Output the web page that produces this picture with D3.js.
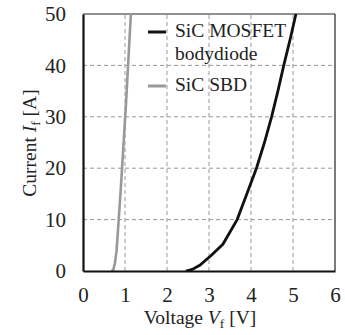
<!DOCTYPE html>
<html><head><meta charset="utf-8">
<script src="https://cdn.jsdelivr.net/npm/d3@7"></script>
<style>body{margin:0;background:#fff}svg{display:block}svg text{font-family:'Liberation Serif','Times New Roman',serif !important;fill:#222}</style>
</head><body>
<script>
const xTicks = [0,1,2,3,4,5,6];
const yTicks = [0,10,20,30,40,50];
const sbdV = [0.68,0.72,0.76,0.80,0.85,0.90,0.96,1.02,1.08,1.14];
const sbdI = [0,0.2,1.5,4,10,16,24,32,41,50];
const mosV = [2.45,2.6,2.78,3.05,3.33,3.67,3.9,4.13,4.32,4.49,4.64,4.78,4.93,5.07];
const mosI = [0,0.3,1.1,3,5.2,10,15,20,25,30,35,40,45,50];
const legendLabels = [["SiC MOSFET","bodydiode"],["SiC SBD"]];
const colors = ["#111","#999"];

const W=345,H=335, m={l:83,r:10,t:14,b:64};
const svg=d3.select("body").append("svg").attr("width",W).attr("height",H);
const x=d3.scaleLinear().domain([0,6]).range([m.l,W-m.r]);
const y=d3.scaleLinear().domain([0,50]).range([H-m.b,m.t]);

// grid
svg.append("g").selectAll("line").data(xTicks.filter(d=>d>0&&d<6)).join("line")
 .attr("x1",d=>x(d)).attr("x2",d=>x(d)).attr("y1",y(0)).attr("y2",y(50))
 .attr("stroke","#999").attr("stroke-width",1).attr("stroke-dasharray","4,3");
svg.append("g").selectAll("line").data(yTicks.filter(d=>d>0&&d<50)).join("line")
 .attr("y1",d=>y(d)).attr("y2",d=>y(d)).attr("x1",x(0)).attr("x2",x(6))
 .attr("stroke","#999").attr("stroke-width",1).attr("stroke-dasharray","4,3");

// frame
svg.append("line").attr("x1",x(0)).attr("x2",x(6)).attr("y1",y(50)).attr("y2",y(50)).attr("stroke","#222").attr("stroke-width",1.2);
svg.append("line").attr("x1",x(6)).attr("x2",x(6)).attr("y1",y(0)).attr("y2",y(50)).attr("stroke","#222").attr("stroke-width",1.2);

const line=d3.line().x(d=>x(d[0])).y(d=>y(d[1]));
const sbd=sbdV.map((v,i)=>[v,sbdI[i]]);
const mos=mosV.map((v,i)=>[v,mosI[i]]);
svg.append("clipPath").attr("id","c").append("rect").attr("x",x(0)).attr("y",y(50)-1).attr("width",x(6)-x(0)).attr("height",y(0)-y(50)+1);
svg.append("path").datum(sbd).attr("d",line).attr("fill","none").attr("stroke",colors[1]).attr("stroke-width",2.6).attr("clip-path","url(#c)");
svg.append("path").datum(mos).attr("d",line).attr("fill","none").attr("stroke",colors[0]).attr("stroke-width",2.8).attr("clip-path","url(#c)");

// axes (left & bottom thick)
const xa=svg.append("g").attr("transform",`translate(0,${y(0)})`).call(d3.axisBottom(x).tickValues(xTicks).tickSize(0).tickPadding(16).tickFormat(d3.format("d")));
const ya=svg.append("g").attr("transform",`translate(${x(0)},0)`).call(d3.axisLeft(y).tickValues(yTicks).tickSize(0).tickPadding(17).tickFormat(d3.format("d")));
[xa,ya].forEach(g=>{g.attr("font-family",null).attr("font-size",null);g.select(".domain").attr("stroke","#111").attr("stroke-width",2.2);g.selectAll("text").attr("font-size",21).attr("fill","#222");});

// legend
const lg=svg.append("g");
lg.append("line").attr("x1",148).attr("x2",166).attr("y1",32).attr("y2",32).attr("stroke",colors[0]).attr("stroke-width",3);
lg.append("text").attr("x",175).attr("y",37).attr("font-size",19.5).text(legendLabels[0][0]);
lg.append("text").attr("x",175).attr("y",60).attr("font-size",19.5).text(legendLabels[0][1]);
lg.append("line").attr("x1",148).attr("x2",166).attr("y1",86).attr("y2",86).attr("stroke",colors[1]).attr("stroke-width",3);
lg.append("text").attr("x",175).attr("y",91).attr("font-size",19.5).text(legendLabels[1][0]);

// axis titles
const xt=svg.append("text").attr("x",200).attr("y",324).attr("text-anchor","middle").attr("font-size",19.5);
xt.append("tspan").text("Voltage ");
xt.append("tspan").attr("font-style","italic").text("V");
xt.append("tspan").attr("dy",4).attr("font-size",13.5).text("f");
xt.append("tspan").attr("dy",-4).text(" [V]");
const yt=svg.append("text").attr("transform","translate(36,143) rotate(-90)").attr("text-anchor","middle").attr("font-size",19.5);
yt.append("tspan").text("Current ");
yt.append("tspan").attr("font-style","italic").text("I");
yt.append("tspan").attr("dy",4).attr("font-size",13.5).text("f");
yt.append("tspan").attr("dy",-4).text(" [A]");
</script>
</body></html>
